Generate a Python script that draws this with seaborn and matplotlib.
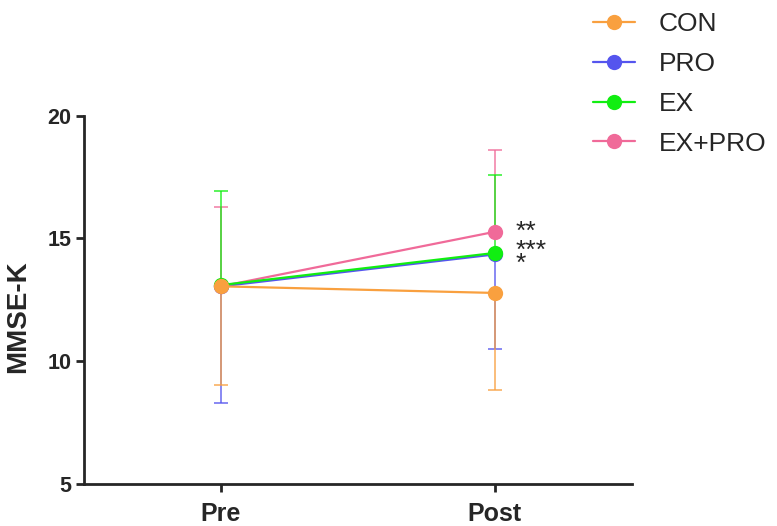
import matplotlib
matplotlib.use("Agg")
import matplotlib.pyplot as plt
import seaborn as sns
import pandas as pd
import numpy as np

# data
timepoints = ["Pre", "Post"]
groups = ["CON", "PRO", "EX", "EX+PRO"]
con_mean = [13.05, 12.78]
pro_mean = [13.05, 14.35]
ex_mean = [13.10, 14.41]
expro_mean = [13.05, 15.27]
# one-sided error bars (GraphPad style): lower for CON/PRO, upper for EX/EX+PRO
con_err = [4.00, 3.95]
pro_err = [4.77, 3.87]
ex_err = [3.83, 3.18]
expro_err = [3.24, 3.34]
err_side = {"CON": "lower", "PRO": "lower", "EX": "upper", "EX+PRO": "upper"}
stars = ["**", "***", "*"]
star_y = [15.25, 14.5, 13.98]

colors = {"CON": "#F9A03F", "PRO": "#5555EE", "EX": "#11EE11", "EX+PRO": "#F06A99"}

means = {"CON": con_mean, "PRO": pro_mean, "EX": ex_mean, "EX+PRO": expro_mean}
errs = {"CON": con_err, "PRO": pro_err, "EX": ex_err, "EX+PRO": expro_err}

rows = []
for g in groups:
    for i, t in enumerate(timepoints):
        rows.append({"group": g, "time": t, "pos": i, "mean": means[g][i], "err": errs[g][i]})
df = pd.DataFrame(rows)

sns.set_style("ticks")
plt.rcParams['font.family'] = ['Liberation Sans', 'DejaVu Sans']

fig = plt.figure(figsize=(7.77, 5.26), dpi=100)
ax = fig.add_axes([0.108, 0.080, 0.705, 0.700])

# drawing order so CON sits on top at Pre
draw_order = ["EX+PRO", "PRO", "EX", "CON"]
for z, g in enumerate(draw_order):
    sub = df[df.group == g]
    e = sub["err"].values
    yerr = [e, np.zeros_like(e)] if err_side[g] == "lower" else [np.zeros_like(e), e]
    ax.errorbar(sub["pos"], sub["mean"], yerr=yerr, fmt="none", ecolor=colors[g],
                alpha=0.75, elinewidth=1.3, capsize=5, capthick=1.3, zorder=2 + z)
    sns.lineplot(data=sub, x="pos", y="mean", color=colors[g], marker="o", markersize=11,
                 markeredgewidth=0, linewidth=1.6, label=g, ax=ax, zorder=10 + z)

for s, y in zip(stars, star_y):
    ax.text(1.075, y, s, fontsize=19, ha="left", va="center")

ax.set_xlim(-0.5, 1.5)
ax.set_ylim(5, 20)
ax.set_xticks([0, 1])
ax.set_xticklabels(timepoints)
ax.set_yticks([5, 10, 15, 20])
ax.set_xlabel("")
ax.set_ylabel("MMSE-K", fontsize=20, fontweight="bold")
ax.yaxis.set_label_coords(-0.097, 0.453)
for lab in ax.get_xticklabels():
    lab.set_fontweight("bold")
    lab.set_fontsize(18)
for lab in ax.get_yticklabels():
    lab.set_fontweight("bold")
    lab.set_fontsize(15.5)
ax.tick_params(axis="both", width=2, length=6, direction="out")
ax.tick_params(axis="x", pad=7)
ax.tick_params(axis="y", pad=3)
for side in ["left", "bottom"]:
    ax.spines[side].set_linewidth(2)
sns.despine(ax=ax)

handles, labels = ax.get_legend_handles_labels()
order = [labels.index(g) for g in groups]
ax.get_legend().remove()
fig.legend([handles[i] for i in order], groups, loc="upper left",
           bbox_to_anchor=(0.732, 1.022), frameon=False, fontsize=19,
           handlelength=1.6, labelspacing=0.6, handletextpad=0.9)

plt.savefig("out.png", dpi=100)
